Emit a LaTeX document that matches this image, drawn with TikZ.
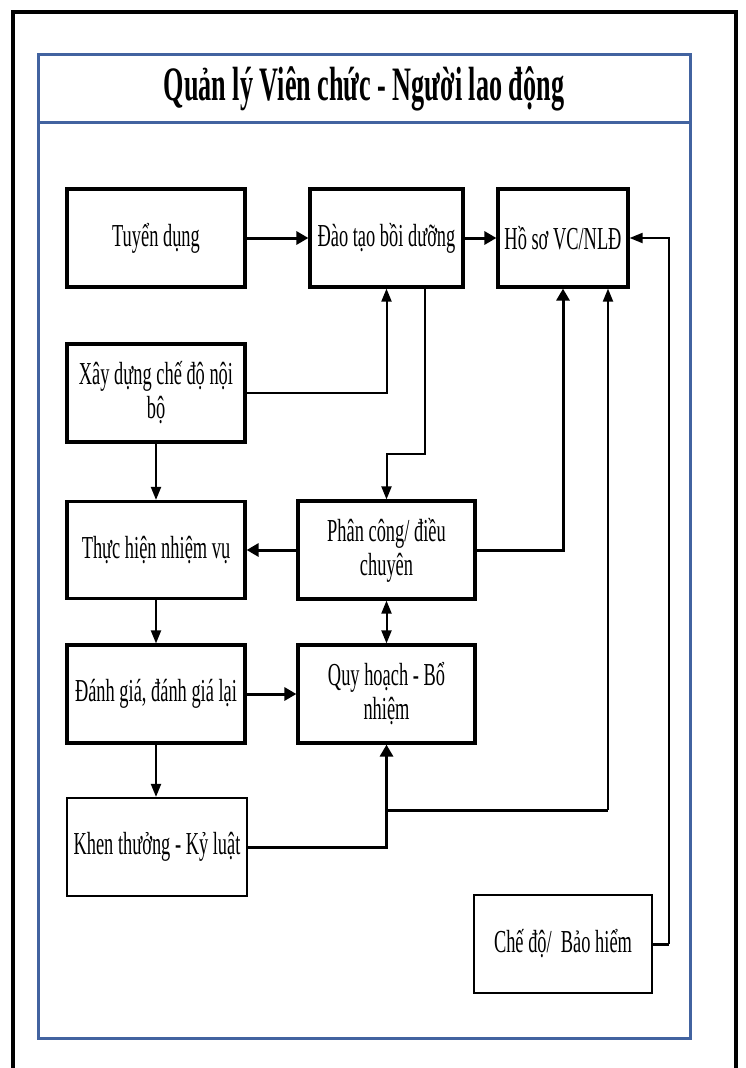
\documentclass[tikz,border=0pt]{standalone}
\usepackage{fontspec}
\setmainfont{Liberation Serif}
\newfontfamily\boxfont[FakeStretch=0.575]{Liberation Serif}
\newfontfamily\titlefont[FakeStretch=0.545]{Liberation Serif}
\usetikzlibrary{arrows.meta}
\definecolor{frameblue}{RGB}{66,99,160}
\tikzset{
  stepbox/.style={draw, line width=3.2pt, minimum width=178pt, minimum height=98pt,
    inner sep=1pt, align=center, font=\boxfont\fontsize{32}{34}\selectfont},
  lightbox/.style={stepbox, line width=2.2pt},
  heavy/.style={line width=3pt, -{Triangle[length=12pt,width=13pt]}},
  light/.style={line width=2pt, -{Triangle[length=13pt,width=10pt]}},
  plain/.style={line width=3pt},
}
\begin{document}
\begin{tikzpicture}[x=1pt,y=-1pt]
\useasboundingbox (0,0) rectangle (745,1068);
\clip (0,0) rectangle (745,1068);
% outer sheet and blue panel
\draw[line width=4pt] (13,12) rectangle (736,1100);
\draw[frameblue, line width=3pt] (38,54) rectangle (690,1038);
\draw[frameblue, line width=3pt] (38,122) -- (690,122);
\node (title) at (364,89) {\titlefont\bfseries\fontsize{48}{52}\selectfont Quản lý Viên chức - Người lao động};

% boxes
\node[stepbox] (tuyen) at (156,238) {Tuyển dụng};
\node[stepbox, minimum width=153pt] (daotao) at (386.5,238) {Đào tạo bồi dưỡng};
\node[stepbox, minimum width=130pt] (hoso) at (563,238) {Hồ sơ VC/NLĐ};
\node[stepbox] (xay) at (156,393) {Xây dựng chế độ nội\\bộ};
\node[stepbox, minimum height=97pt] (thuchien) at (156,550) {Thực hiện nhiệm vụ};
\node[stepbox, minimum width=177pt] (phancong) at (386.5,550) {Phân công/ điều\\chuyên};
\node[stepbox] (danhgia) at (156,694) {Đánh giá, đánh giá lại};
\node[stepbox, minimum width=177pt] (quyhoach) at (386.5,694) {Quy hoạch - Bổ\\nhiệm};
\node[lightbox, minimum width=180pt] (khen) at (157,847) {Khen thưởng - Kỷ luật};
\node[lightbox] (chedo) at (563,944) {Chế độ/~ Bảo hiểm};

% helper points for routed connectors
\coordinate (jog) at (425,454);
\coordinate (branch) at (608,810);
\coordinate (rail) at (669,944);

% connectors
\draw[heavy] (tuyen.east) -- (daotao.west);
\draw[heavy] (daotao.east) -- (hoso.west);
\draw[light] (xay.east) -| (daotao.south);
\draw[light] (daotao.south -| jog) -- (jog) -| (phancong.north);
\draw[light] (xay.south) -- (thuchien.north);
\draw[heavy] (phancong.west) -- (thuchien.east);
\draw[heavy] (phancong.east) -| (hoso.south);
\draw[light] (thuchien.south) -- (danhgia.north);
\draw[line width=2pt, {Triangle[length=13pt,width=10pt]}-{Triangle[length=13pt,width=10pt]}] (phancong.south) -- (quyhoach.north);
\draw[heavy] (danhgia.east) -- (quyhoach.west);
\draw[light] (danhgia.south) -- (danhgia.south |- khen.north);
\draw[heavy] (khen.east) -| (quyhoach.south);
\draw[plain] (quyhoach.south |- branch) -- (branch);
\draw[light] (branch) -- (hoso.south -| branch);
\draw[plain] (chedo.east) -- (rail);
\draw[light] (rail) |- (hoso.east);
\end{tikzpicture}
\end{document}
